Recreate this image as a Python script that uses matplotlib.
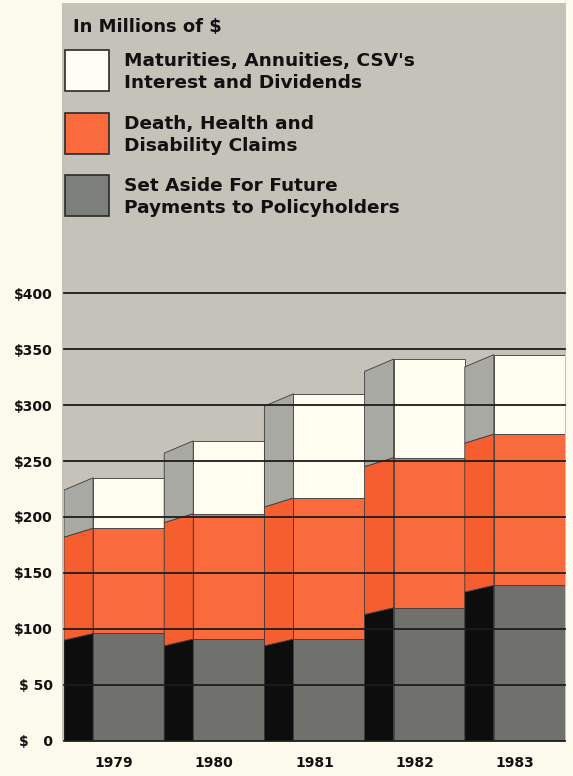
import matplotlib
matplotlib.use("Agg")
import matplotlib.pyplot as plt
from matplotlib.patches import Rectangle

plt.rcParams['font.family'] = ['DejaVu Sans']

# Data (millions of $)
years = ["1979", "1980", "1981", "1982", "1983"]
set_aside = [96, 91, 91, 119, 139]
claims = [94, 112, 126, 134, 135]
maturities = [45, 65, 93, 88, 71]
yticks = [0, 50, 100, 150, 200, 250, 300, 350, 400]
ytick_labels = ["$   0", "$ 50", "$100", "$150", "$200", "$250", "$300", "$350", "$400"]

legend_labels = ["Maturities, Annuities, CSV's\nInterest and Dividends",
                 "Death, Health and\nDisability Claims",
                 "Set Aside For Future\nPayments to Policyholders"]

# colours
BG = "#fbfaec"
PANEL = "#c4c2b9"
front_cols = ["#70716d", "#f96a3c", "#fffdf0"]
side_cols = ["#0d0d0d", "#f65e30", "#a9a9a4"]
drops = [0, 6, 8, 11]  # how far the side face's far edge sinks at each boundary
SIDE = 0.29

W, H = 573, 776
fig = plt.figure(figsize=(W / 100, H / 100), dpi=100, facecolor=BG)

# grey panel behind everything
fig.patches.append(Rectangle((62 / W, (H - 741) / H), (566 - 62) / W, (741 - 3) / H,
                             transform=fig.transFigure, facecolor=PANEL,
                             edgecolor="none", zorder=-5))

ax = fig.add_axes([64 / W, (H - 741) / H, (565 - 64) / W, 448 / H])
ax.set_zorder(2)
ax.set_facecolor("none")
ax.set_xlim(0, 5)
ax.set_ylim(0, 400)
for s in ax.spines.values():
    s.set_visible(False)

for i in range(len(years)):
    segs = [set_aside[i], claims[i], maturities[i]]
    x0 = i
    bottom = 0
    for j, v in enumerate(segs):
        top = bottom + v
        # side face (left, in perspective)
        ax.fill([x0, x0 + SIDE, x0 + SIDE, x0],
                [bottom - drops[j], bottom, top, top - drops[j + 1]],
                facecolor=side_cols[j], edgecolor="#3a3a3a", lw=0.6, zorder=2)
        # front face
        ax.add_patch(Rectangle((x0 + SIDE, bottom), 1 - SIDE, v,
                               facecolor=front_cols[j], edgecolor="#3a3a3a",
                               lw=0.6, zorder=2))
        bottom = top

for y in yticks:
    ax.axhline(y, color="#1c1c1c", lw=1.3, zorder=5, clip_on=False)

ax.set_yticks(yticks)
ax.set_yticklabels(ytick_labels, fontsize=10, fontweight="bold", color="#111")
ax.set_xticks([i + 0.5 for i in range(len(years))])
ax.set_xticklabels(years, fontsize=10, fontweight="bold", color="#111")
ax.tick_params(axis="y", length=0, pad=8)
ax.tick_params(axis="x", length=0, pad=11)

# legend block
fig.text(73 / W, 1 - 27 / H, "In Millions of $", fontsize=13, fontweight="bold",
         color="#111", va="center", ha="left")
box_tops = [50, 113, 175]
leg_cols = ["#fffdf4", "#f96a3c", "#7d7f7b"]
for top, col, lab in zip(box_tops, leg_cols, legend_labels):
    fig.patches.append(Rectangle((65 / W, 1 - (top + 41) / H), 44 / W, 41 / H,
                                 transform=fig.transFigure, facecolor=col,
                                 edgecolor="#2a2a2a", lw=1.2, zorder=3))
    fig.text(124 / W, 1 - (top + 22) / H, lab, fontsize=13.3, fontweight="bold",
             color="#111", va="center", ha="left", linespacing=1.27)

fig.savefig("out.png", dpi=100, facecolor=BG)
